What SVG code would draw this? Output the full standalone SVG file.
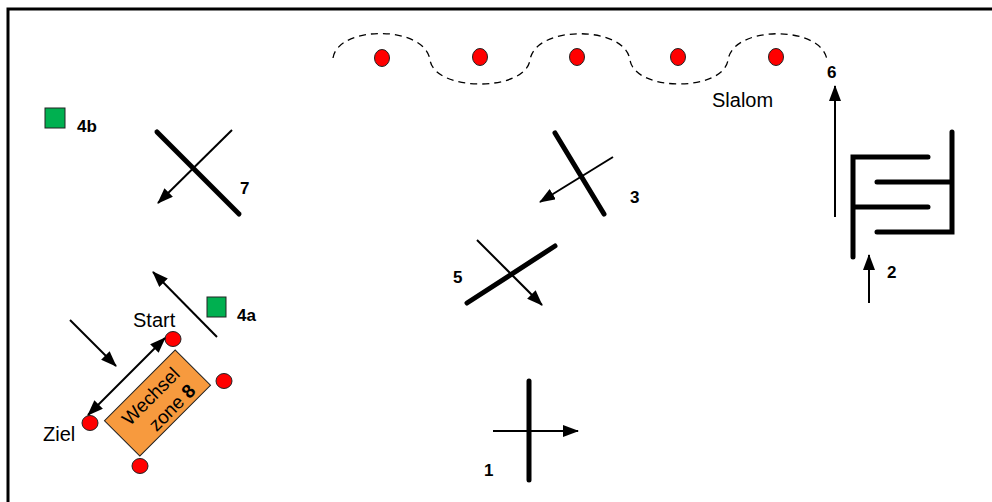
<svg xmlns="http://www.w3.org/2000/svg" width="992" height="502" viewBox="0 0 992 502">
<style>
.thick{stroke:#000;stroke-width:5;stroke-linecap:round;fill:none}
.thin{stroke:#000;stroke-width:2;fill:none}
.cone{fill:#FF0000;stroke:#222;stroke-width:1}
.marker{fill:#00B050;stroke:#222;stroke-width:1}
.lbl{font-family:"Liberation Sans",Arial,sans-serif;font-weight:bold;font-size:17px;fill:#000}
.txt{font-family:"Liberation Sans",Arial,sans-serif;font-size:20px;fill:#000}
.zone{font-family:"Liberation Sans",Arial,sans-serif;font-size:19px;fill:#000}
</style>
<defs>
<marker id="ah" markerUnits="userSpaceOnUse" markerWidth="16" markerHeight="12" refX="15" refY="6" orient="auto-start-reverse">
<path d="M0,0 L16,6 L0,12 z" fill="#000"/>
</marker>
</defs>
<rect width="992" height="502" fill="#fff"/>
<path d="M8,502 L8,9 L992,9" fill="none" stroke="#000" stroke-width="3"/>

<g id="slalom">
<path d="M333,58 C338,25 425,25 430,60 C435,92 525,92 530,60 C535,25 625,25 630,60 C635,92 723,92 728,60 C733,25 822,25 827,60" fill="none" stroke="#000" stroke-width="1.3" stroke-dasharray="7 5"/>
<ellipse class="cone" cx="382" cy="58" rx="7.5" ry="8.5"/>
<ellipse class="cone" cx="480" cy="57" rx="7.5" ry="8.5"/>
<ellipse class="cone" cx="577" cy="57" rx="7.5" ry="8.5"/>
<ellipse class="cone" cx="678" cy="57" rx="7.5" ry="8.5"/>
<ellipse class="cone" cx="776" cy="57" rx="7.5" ry="8.5"/>
<text class="txt" x="712" y="107">Slalom</text>
</g>

<g id="station4b">
<rect class="marker" x="45" y="108" width="20" height="20"/>
<text class="lbl" x="77" y="132">4b</text>
</g>

<g id="station4a">
<rect class="marker" x="207" y="297" width="19" height="20"/>
<text class="lbl" x="237" y="321">4a</text>
</g>

<g id="station7">
<line class="thick" x1="157" y1="132" x2="239" y2="214"/>
<text class="lbl" x="240" y="194">7</text>
</g>

<g id="station3">
<line class="thick" x1="555" y1="133" x2="604" y2="214"/>
<text class="lbl" x="630" y="203">3</text>
</g>

<g id="station5">
<line class="thick" x1="467" y1="303" x2="555" y2="246"/>
<text class="lbl" x="453" y="283">5</text>
</g>

<g id="station1">
<line class="thick" x1="529" y1="381" x2="529" y2="480"/>
<text class="lbl" x="484" y="476">1</text>
</g>

<g id="station2">
<path class="thick" d="M853,257 L853,157 L928,157 M853,207 L928,207 M877,182 L952,182 M877,232 L952,232 L952,132"/>
<text class="lbl" x="887" y="278">2</text>
</g>

<g id="station6">
<text class="lbl" x="827" y="78">6</text>
</g>

<g id="wechselzone8">
<rect x="107.5" y="378" width="100" height="50" fill="#F79A3E" stroke="#222" stroke-width="1" transform="rotate(-45 157.5 403)"/>
<g transform="translate(157.5 403) rotate(-45)">
<text class="zone" x="0" y="-3" text-anchor="middle">Wechsel</text>
<text class="zone" x="7" y="20" text-anchor="middle">zone <tspan font-weight="bold">8</tspan></text>
</g>
<ellipse class="cone" cx="173" cy="339" rx="8" ry="7.5"/>
<ellipse class="cone" cx="224" cy="381" rx="8" ry="7.5"/>
<ellipse class="cone" cx="90" cy="423" rx="8" ry="7.5"/>
<ellipse class="cone" cx="140" cy="466" rx="8" ry="7.5"/>
<text class="txt" x="133" y="327">Start</text>
<text class="txt" x="43" y="441">Ziel</text>
</g>

<g id="connectors">
<line class="thin" x1="232" y1="130" x2="158" y2="203" marker-end="url(#ah)"/>
<line class="thin" x1="613" y1="157" x2="540" y2="202" marker-end="url(#ah)"/>
<line class="thin" x1="477" y1="240" x2="542" y2="305" marker-end="url(#ah)"/>
<line class="thin" x1="493" y1="431" x2="578" y2="431" marker-end="url(#ah)"/>
<line class="thin" x1="835" y1="217" x2="835" y2="86" marker-end="url(#ah)"/>
<line class="thin" x1="869" y1="303" x2="869" y2="255" marker-end="url(#ah)"/>
<line class="thin" x1="217" y1="337" x2="153" y2="272" marker-end="url(#ah)"/>
<line class="thin" x1="70" y1="320" x2="116" y2="366" marker-end="url(#ah)"/>
<line class="thin" x1="165" y1="338" x2="88" y2="415" marker-start="url(#ah)" marker-end="url(#ah)"/>
</g>
</svg>
